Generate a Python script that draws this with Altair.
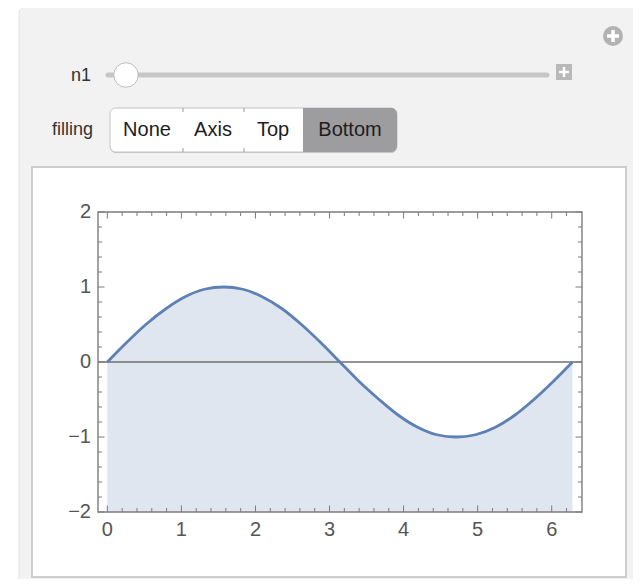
import altair as alt
import pandas as pd

# ---------------- data ----------------
X_VALUES = [0.0, 0.26, 0.52, 0.79, 1.05, 1.31, 1.57, 1.83, 2.09, 2.36, 2.62, 2.88, 3.14,
            3.40, 3.67, 3.93, 4.19, 4.45, 4.71, 4.97, 5.24, 5.50, 5.76, 6.02, 6.28]
Y_VALUES = [0.0, 0.26, 0.50, 0.71, 0.87, 0.97, 1.00, 0.97, 0.87, 0.71, 0.50, 0.26, 0.0,
            -0.26, -0.50, -0.71, -0.87, -0.97, -1.00, -0.97, -0.87, -0.71, -0.50, -0.26, 0.0]
FILL_BASE = -2
X_TICK_LABELS = [0, 1, 2, 3, 4, 5, 6]
Y_TICK_LABELS = [-2, -1, 0, 1, 2]
X_MINOR = [0.2, 0.4, 0.6, 0.8, 1.2, 1.4, 1.6, 1.8, 2.2, 2.4, 2.6, 2.8, 3.2, 3.4, 3.6, 3.8,
           4.2, 4.4, 4.6, 4.8, 5.2, 5.4, 5.6, 5.8, 6.2]
Y_MINOR = [-1.8, -1.6, -1.4, -1.2, -0.8, -0.6, -0.4, -0.2, 0.2, 0.4, 0.6, 0.8,
           1.2, 1.4, 1.6, 1.8]
X_DOMAIN = [-0.126, 6.409]
Y_DOMAIN = [-2, 2]
SLIDER_LABEL = "n1"
FILLING_LABEL = "filling"
BUTTONS = ["None", "Axis", "Top", "Bottom"]
SELECTED = "Bottom"

# ---------------- layout ----------------
W, H = 484, 300
OX, OY = 98, 212          # page position of the plot frame's top-left corner
FONT = "Liberation Sans"
LINE_COLOR = "#5e81b5"


def px(v):
    return v - OX


def py(v):
    return v - OY


one = alt.Data(values=[{"a": 1}])
df = pd.DataFrame({"x": X_VALUES, "y": Y_VALUES})
xs = alt.Scale(domain=X_DOMAIN, nice=False, zero=False)
ys = alt.Scale(domain=Y_DOMAIN, nice=False, zero=False)


def box(x1, x2, y1, y2, **mark):
    return alt.Chart(one).mark_rect(**mark).encode(
        x=alt.value(px(x1)), x2=alt.value(px(x2)),
        y=alt.value(py(y1)), y2=alt.value(py(y2)))


def seg(x1, x2, y1, y2, **mark):
    return alt.Chart(one).mark_rule(**mark).encode(
        x=alt.value(px(x1)), x2=alt.value(px(x2)),
        y=alt.value(py(y1)), y2=alt.value(py(y2)))


def label(txt, x, y, **mark):
    return alt.Chart(one).mark_text(text=txt, font=FONT, baseline="middle", **mark).encode(
        x=alt.value(px(x)), y=alt.value(py(y)))


def dot(x, y, **mark):
    return alt.Chart(one).mark_circle(opacity=1, **mark).encode(
        x=alt.value(px(x)), y=alt.value(py(y)))


layers = []
# outer panel and white plot box
layers.append(box(19, 640, 6, 600, fill="#f2f2f2", stroke="#e0e0e0", strokeWidth=1,
                  cornerRadius=8))
layers.append(box(32, 626, 167, 577, fill="white", stroke="#cdcdcd", strokeWidth=2))

# top-right circled plus
layers.append(dot(613, 36, size=400, color="#b2b2b2"))
layers.append(seg(607, 619, 36, 36, color="white", strokeWidth=3.5))
layers.append(seg(613, 613, 30, 42, color="white", strokeWidth=3.5))

# slider
layers.append(label(SLIDER_LABEL, 91, 76, align="right", fontSize=18, color="#333333"))
layers.append(seg(108, 547, 75, 75, color="#c6c6c6", strokeWidth=5, strokeCap="round"))
layers.append(dot(126, 75, size=600, color="white", stroke="#bcbcbc", strokeWidth=1))
layers.append(box(556, 572, 64, 80, fill="#b9b9b9"))
layers.append(seg(559, 569, 72, 72, color="white", strokeWidth=2.5))
layers.append(seg(564, 564, 67, 77, color="white", strokeWidth=2.5))

# filling buttons
layers.append(label(FILLING_LABEL, 93, 130, align="right", fontSize=18, color="#333333"))
layers.append(box(110, 397, 109, 153, fill="#c8c8c8", cornerRadius=6))
layers.append(box(110, 397, 108, 152, fill="white", stroke="#c4c4c4", strokeWidth=1,
                  cornerRadius=6))
sel_x = {"None": (110, 183), "Axis": (183, 244), "Top": (244, 303), "Bottom": (303, 397)}
bx1, bx2 = sel_x[SELECTED]
layers.append(box(bx1, bx2, 108, 152, fill="#9d9c9e", cornerRadiusTopRight=6,
                  cornerRadiusBottomRight=6))
for d in (183, 244):
    layers.append(seg(d, d, 108, 112, color="#9a9a9a", strokeWidth=1))
    layers.append(seg(d, d, 148, 152, color="#9a9a9a", strokeWidth=1))
centers = {"None": 147, "Axis": 213, "Top": 273, "Bottom": 350}
for name in BUTTONS:
    layers.append(label(name, centers[name], 130, align="center", fontSize=20,
                        color="#1d1d1d"))

# ---------------- the plot ----------------
area = alt.Chart(df).mark_area(color=LINE_COLOR, opacity=0.2, interpolate="monotone").encode(
    x=alt.X("x:Q", scale=xs, axis=None),
    y=alt.Y("y:Q", scale=ys, axis=None),
    y2=alt.datum(FILL_BASE),
)
zero = alt.Chart(one).mark_rule(color="#6f6f6f", strokeWidth=1.3).encode(
    y=alt.Y(datum=0, scale=ys, axis=None), x=alt.value(0), x2=alt.value(W))
line = alt.Chart(df).mark_line(color=LINE_COLOR, strokeWidth=2.8, interpolate="monotone").encode(
    x=alt.X("x:Q", scale=xs, axis=None),
    y=alt.Y("y:Q", scale=ys, axis=None),
)
layers += [area, zero, line]

TICK = "#7a7a7a"
xmaj = pd.DataFrame({"t": X_TICK_LABELS,
                     "s": [str(v).replace("-", "\u2212") for v in X_TICK_LABELS]})
ymaj = pd.DataFrame({"t": Y_TICK_LABELS,
                     "s": [str(v).replace("-", "\u2212") for v in Y_TICK_LABELS]})
xmin = pd.DataFrame({"t": X_MINOR})
ymin = pd.DataFrame({"t": Y_MINOR})
for d, ln in ((xmaj, 6.5), (xmin, 4)):
    layers.append(alt.Chart(d).mark_rule(color=TICK, strokeWidth=1).encode(
        x=alt.X("t:Q", scale=xs, axis=None), y=alt.value(H), y2=alt.value(H - ln)))
    layers.append(alt.Chart(d).mark_rule(color=TICK, strokeWidth=1).encode(
        x=alt.X("t:Q", scale=xs, axis=None), y=alt.value(0), y2=alt.value(ln)))
for d, ln in ((ymaj, 6.5), (ymin, 4)):
    layers.append(alt.Chart(d).mark_rule(color=TICK, strokeWidth=1).encode(
        y=alt.Y("t:Q", scale=ys, axis=None), x=alt.value(0), x2=alt.value(ln)))
    layers.append(alt.Chart(d).mark_rule(color=TICK, strokeWidth=1).encode(
        y=alt.Y("t:Q", scale=ys, axis=None), x=alt.value(W), x2=alt.value(W - ln)))

# tick labels
layers.append(alt.Chart(xmaj).mark_text(font=FONT, fontSize=20, color="#555555",
                                        baseline="middle", align="center").encode(
    x=alt.X("t:Q", scale=xs, axis=None), y=alt.value(H + 18), text="s:N"))
layers.append(alt.Chart(ymaj).mark_text(font=FONT, fontSize=20, color="#555555",
                                        baseline="middle", align="right").encode(
    y=alt.Y("t:Q", scale=ys, axis=None), x=alt.value(-7), text="s:N"))

frame = alt.Chart(one).mark_rect(fillOpacity=0, stroke="#7c7c7c", strokeWidth=1.4).encode(
    x=alt.value(0), x2=alt.value(W), y=alt.value(0), y2=alt.value(H))
layers.append(frame)

chart = alt.layer(*layers).properties(
    width=W, height=H,
    autosize=alt.AutoSizeParams(type="none"),
    padding={"left": 90, "top": 204, "right": 51, "bottom": 67},
    background="white",
).configure_view(stroke=None)

chart.save("out.html", embed_options={"renderer": "svg", "actions": False})
